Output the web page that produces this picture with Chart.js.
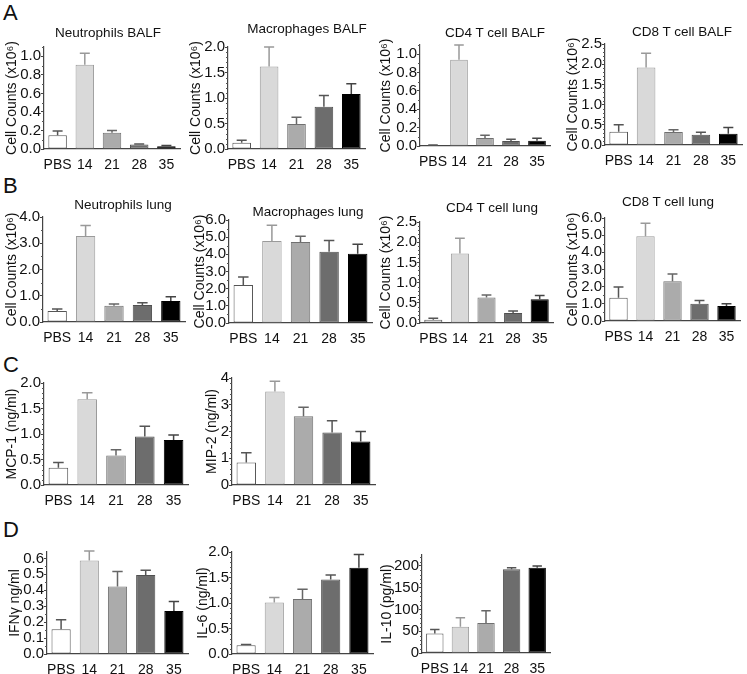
<!DOCTYPE html>
<html>
<head>
<meta charset="utf-8">
<script src="https://cdn.jsdelivr.net/npm/chart.js@4.4.1/dist/chart.umd.min.js"></script>
<style>
  body { margin: 0; background: #fff; }
  #fig { position: relative; width: 747px; height: 674px; font-family: "Liberation Sans", Arial, sans-serif; color: #111; }
  #fig canvas { position: absolute; }
  .lbl { position: absolute; font-size: 22px; line-height: 22px; }
  .ttl { position: absolute; width: 200px; text-align: center; font-size: 13.5px; line-height: 16px; white-space: nowrap; }
</style>
</head>
<body>
<div id="fig"></div>
<script>
// Groups (days after infection)
const groups = ['PBS', '14', '21', '28', '35'];

// A - BALF cell counts (x10^6): mean and upper SEM
const neutBalfMean = [0.147, 0.908, 0.176, 0.048, 0.030];
const neutBalfErr  = [0.047, 0.125, 0.024, 0.007, 0.007];
const macBalfMean  = [0.125, 1.62, 0.49, 0.83, 1.08];
const macBalfErr   = [0.045, 0.38, 0.135, 0.22, 0.20];
const cd4BalfMean  = [0.008, 0.94, 0.088, 0.055, 0.057];
const cd4BalfErr   = [0.004, 0.16, 0.030, 0.018, 0.027];
const cd8BalfMean  = [0.33, 1.92, 0.32, 0.255, 0.28];
const cd8BalfErr   = [0.17, 0.35, 0.055, 0.06, 0.155];

// B - lung cell counts (x10^6)
const neutLungMean = [0.42, 3.28, 0.62, 0.65, 0.80];
const neutLungErr  = [0.08, 0.40, 0.07, 0.08, 0.16];
const macLungMean  = [2.22, 4.78, 4.72, 4.15, 4.03];
const macLungErr   = [0.46, 0.92, 0.34, 0.66, 0.56];
const cd4LungMean  = [0.08, 1.72, 0.63, 0.25, 0.59];
const cd4LungErr   = [0.035, 0.38, 0.06, 0.05, 0.09];
const cd8LungMean  = [1.35, 4.93, 2.32, 1.00, 0.87];
const cd8LungErr   = [0.63, 0.77, 0.42, 0.20, 0.13];

// C - chemokines (ng/ml)
const mcp1Mean = [0.34, 1.68, 0.58, 0.95, 0.88];
const mcp1Err  = [0.10, 0.13, 0.11, 0.20, 0.10];
const mip2Mean = [0.84, 3.50, 2.57, 1.96, 1.63];
const mip2Err  = [0.37, 0.38, 0.34, 0.44, 0.37];

// D - cytokines
const ifngMean = [0.155, 0.586, 0.423, 0.496, 0.270];
const ifngErr  = [0.060, 0.060, 0.095, 0.030, 0.060];
const il6Mean  = [0.17, 1.01, 1.08, 1.46, 1.69];
const il6Err   = [0.015, 0.10, 0.19, 0.09, 0.26];
const il10Mean = [45, 60, 69, 192, 196];
const il10Err  = [9, 21, 28, 4, 4];

// y tick values
const ticksTo1   = [0, 0.2, 0.4, 0.6, 0.8, 1.0];
const ticksTo2   = [0, 0.5, 1.0, 1.5, 2.0];
const ticksTo25  = [0, 0.5, 1.0, 1.5, 2.0, 2.5];
const ticksTo4   = [0, 1, 2, 3, 4];
const ticksTo6   = [0, 1, 2, 3, 4, 5, 6];
const ticksIfng  = [0, 0.1, 0.2, 0.3, 0.4, 0.5, 0.6];
const ticksIl10  = [0, 50, 100, 150, 200];

const barFill   = ['#ffffff', '#d9d9d9', '#ababab', '#6d6d6d', '#000000'];
const barBorder = ['#555555', '#9a9a9a', '#707070', '#505050', '#000000'];
const errColor  = ['#555555', '#999999', '#666666', '#555555', '#444444'];

const cellLabel = 'Cell Counts (x10\u2076)';
const FONT = '"Liberation Sans", Arial, sans-serif';

const panels = [
  { title: 'Neutrophils BALF', tx: 108, ty: 33, yLabel: cellLabel, mean: neutBalfMean, err: neutBalfErr, ticks: ticksTo1, max: 1.1, dec: 1, minor: 0.1, axisX: 44, xEnd: 180, yTop: 47, yZero: 149, gap: 32 },
  { title: 'Macrophages BALF', tx: 307, ty: 29, yLabel: cellLabel, mean: macBalfMean, err: macBalfErr, ticks: ticksTo2, max: 2.0, dec: 1, minor: 0.1, axisX: 228, xEnd: 365, yTop: 47, yZero: 149, gap: 32 },
  { title: 'CD4 T cell BALF', tx: 495, ty: 33, yLabel: cellLabel, mean: cd4BalfMean, err: cd4BalfErr, ticks: ticksTo1, max: 1.1, dec: 1, minor: 0.1, axisX: 420, xEnd: 550, yTop: 45, yZero: 146, gap: 34 },
  { title: 'CD8 T cell BALF', tx: 682, ty: 32, yLabel: cellLabel, mean: cd8BalfMean, err: cd8BalfErr, ticks: ticksTo25, max: 2.5, dec: 1, minor: 0.1, axisX: 605, xEnd: 742, yTop: 44, yZero: 145, gap: 32 },
  { title: 'Neutrophils lung', tx: 123, ty: 205, yLabel: cellLabel, mean: neutLungMean, err: neutLungErr, ticks: ticksTo4, max: 4, dec: 1, minor: 0.5, axisX: 43, xEnd: 185, yTop: 217, yZero: 322, gap: 31 },
  { title: 'Macrophages lung', tx: 308, ty: 212, yLabel: cellLabel, mean: macLungMean, err: macLungErr, ticks: ticksTo6, max: 6, dec: 1, minor: 0.5, axisX: 229, xEnd: 372, yTop: 220, yZero: 323, gap: 29 },
  { title: 'CD4 T cell lung', tx: 492, ty: 208, yLabel: cellLabel, mean: cd4LungMean, err: cd4LungErr, ticks: ticksTo25, max: 2.5, dec: 1, minor: 0.1, axisX: 420, xEnd: 553, yTop: 222, yZero: 323, gap: 34 },
  { title: 'CD8 T cell lung', tx: 668, ty: 202, yLabel: cellLabel, mean: cd8LungMean, err: cd8LungErr, ticks: ticksTo6, max: 6, dec: 1, minor: 0.5, axisX: 605, xEnd: 740, yTop: 218, yZero: 321, gap: 32 },
  { title: '', yLabel: 'MCP-1 (ng/ml)', mean: mcp1Mean, err: mcp1Err, ticks: ticksTo2, max: 2.0, dec: 1, minor: 0.1, axisX: 44, xEnd: 188, yTop: 383, yZero: 485, gap: 32 },
  { title: '', yLabel: 'MIP-2 (ng/ml)', mean: mip2Mean, err: mip2Err, ticks: ticksTo4, max: 4, dec: 0, minor: 0.2, axisX: 232, xEnd: 375, yTop: 378, yZero: 485, gap: 20 },
  { title: '', yLabel: 'IFN\u03b3 ng/ml', mean: ifngMean, err: ifngErr, ticks: ticksIfng, max: 0.64, dec: 1, minor: 0.05, axisX: 47, xEnd: 188, yTop: 552, yZero: 654, gap: 32 },
  { title: '', yLabel: 'IL-6 (ng/ml)', mean: il6Mean, err: il6Err, ticks: ticksTo2, max: 2.0, dec: 1, minor: 0.1, axisX: 232, xEnd: 373, yTop: 552, yZero: 654, gap: 29 },
  { title: '', yLabel: 'IL-10 (pg/ml)', mean: il10Mean, err: il10Err, ticks: ticksIl10, max: 225, dec: 0, minor: 10, axisX: 422, xEnd: 550, yTop: 555, yZero: 653, gap: 35 }
];

const letters = [['A', 3, 2], ['B', 3, 175], ['C', 3, 354], ['D', 3, 519]];

// error bars above each bar (mean + err)
const errorBars = {
  id: 'errorBars',
  afterDatasetsDraw(chart, args, opts) {
    const ds = chart.data.datasets[0];
    const meta = chart.getDatasetMeta(0);
    const y = chart.scales.y;
    const ctx = chart.ctx;
    ctx.save();
    ctx.lineWidth = 1.5;
    meta.data.forEach((bar, i) => {
      const top = y.getPixelForValue(ds.data[i] + opts.errors[i]);
      const half = bar.width * 0.27;
      ctx.strokeStyle = errColor[i];
      ctx.beginPath();
      ctx.moveTo(bar.x, bar.y);
      ctx.lineTo(bar.x, top);
      ctx.moveTo(bar.x - half, top);
      ctx.lineTo(bar.x + half, top);
      ctx.stroke();
    });
    ctx.restore();
  }
};

// small minor ticks on the y axis
const minorTicks = {
  id: 'minorTicks',
  afterDraw(chart, args, opts) {
    const y = chart.scales.y;
    const ctx = chart.ctx;
    const x0 = chart.chartArea.left;
    ctx.save();
    ctx.strokeStyle = '#555';
    ctx.lineWidth = 1;
    ctx.beginPath();
    for (let k = 1; k * opts.step <= y.max + 1e-9; k++) {
      const v = k * opts.step;
      if (y.ticks.some(t => Math.abs(t.value - v) < 1e-9)) continue;
      const py = Math.round(y.getPixelForValue(v)) + 0.5;
      ctx.moveTo(x0 - 2, py);
      ctx.lineTo(x0, py);
    }
    ctx.stroke();
    ctx.restore();
  }
};

const fig = document.getElementById('fig');

letters.forEach(([t, x, y]) => {
  const d = document.createElement('div');
  d.className = 'lbl';
  d.style.left = x + 'px';
  d.style.top = y + 'px';
  d.textContent = t;
  fig.appendChild(d);
});

panels.forEach(p => {
  const padTop = 10;
  const xAxisH = 22;
  const yAxisW = p.gap + 7;
  const left = p.axisX - yAxisW;
  const top = p.yTop - padTop;
  const width = p.xEnd - left + 4;
  const height = p.yZero - top + xAxisH;

  const canvas = document.createElement('canvas');
  canvas.width = width;
  canvas.height = height;
  canvas.style.left = left + 'px';
  canvas.style.top = top + 'px';
  fig.appendChild(canvas);

  if (p.title) {
    const d = document.createElement('div');
    d.className = 'ttl';
    d.style.left = (p.tx - 100) + 'px';
    d.style.top = (p.ty - 8) + 'px';
    d.textContent = p.title;
    fig.appendChild(d);
  }

  new Chart(canvas, {
    type: 'bar',
    data: {
      labels: groups,
      datasets: [{
        data: p.mean,
        backgroundColor: barFill,
        borderColor: barBorder,
        borderWidth: 1,
        borderSkipped: false,
        barPercentage: 0.68,
        categoryPercentage: 1
      }]
    },
    options: {
      responsive: false,
      devicePixelRatio: 1,
      animation: false,
      layout: { padding: { top: padTop, right: 4, left: 0, bottom: 0 } },
      plugins: {
        legend: { display: false },
        tooltip: { enabled: false },
        errorBars: { errors: p.err },
        minorTicks: { step: p.minor }
      },
      scales: {
        x: {
          offset: true,
          grid: { display: false },
          border: { display: true, color: '#444', width: 1.2 },
          ticks: { color: '#111', font: { family: FONT, size: 14 }, padding: 0, maxRotation: 0, autoSkip: false },
          afterFit: s => { s.height = xAxisH; }
        },
        y: {
          min: 0,
          max: p.max,
          afterBuildTicks: s => { s.ticks = p.ticks.map(v => ({ value: v })); },
          grid: { display: true, drawOnChartArea: false, drawTicks: true, tickLength: 3, color: '#444' },
          border: { display: true, color: '#444', width: 1.2 },
          ticks: {
            color: '#111',
            font: { family: FONT, size: 15 },
            padding: 0,
            autoSkip: false,
            callback: v => Number(v).toFixed(p.dec)
          },
          title: {
            display: true,
            text: p.yLabel,
            color: '#111',
            font: { family: FONT, size: 14, lineHeight: 1 },
            padding: 0
          },
          afterFit: s => { s.width = yAxisW; }
        }
      }
    },
    plugins: [errorBars, minorTicks]
  });
});
</script>
</body>
</html>
